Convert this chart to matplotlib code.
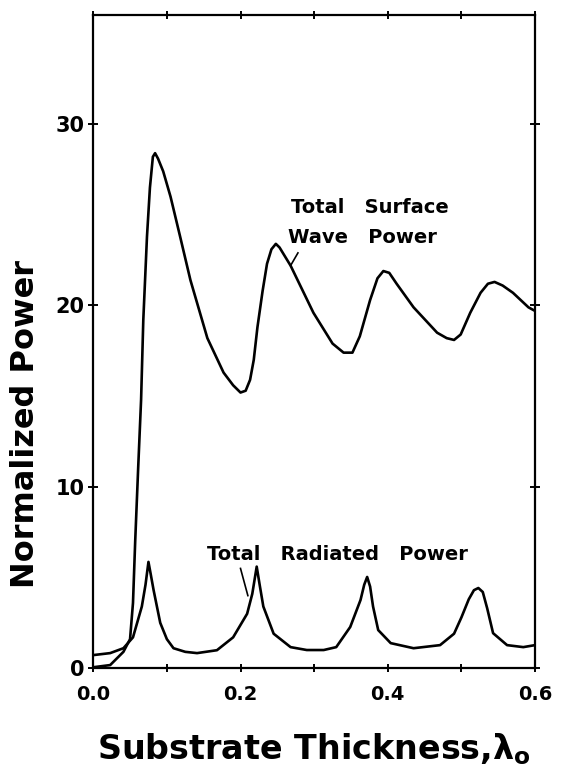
import matplotlib
matplotlib.use("Agg")
import matplotlib.pyplot as plt
from matplotlib.ticker import MultipleLocator

# substrate thickness (in free-space wavelengths)
surf_x = [0.0, 0.023, 0.041, 0.050, 0.054, 0.057, 0.061, 0.065, 0.068, 0.073,
          0.077, 0.081, 0.084, 0.088, 0.095, 0.105, 0.118, 0.132, 0.155, 0.177,
          0.190, 0.200, 0.207, 0.213, 0.218, 0.223, 0.230, 0.236, 0.242, 0.248,
          0.253, 0.268, 0.299, 0.325, 0.340, 0.352, 0.362, 0.376, 0.386, 0.394,
          0.402, 0.412, 0.435, 0.467, 0.480, 0.490, 0.499, 0.512, 0.526, 0.536,
          0.545, 0.556, 0.570, 0.591, 0.600]
surf_y = [0.05, 0.17, 0.9, 1.6, 3.6, 7.0, 11.0, 14.8, 19.2, 23.8,
          26.5, 28.2, 28.4, 28.1, 27.4, 26.0, 23.8, 21.4, 18.2, 16.3,
          15.6, 15.2, 15.3, 15.9, 17.0, 18.8, 20.8, 22.3, 23.1, 23.4,
          23.2, 22.2, 19.6, 17.9, 17.4, 17.4, 18.3, 20.3, 21.5, 21.9,
          21.8, 21.2, 19.9, 18.5, 18.2, 18.1, 18.4, 19.6, 20.7, 21.2,
          21.3, 21.1, 20.7, 19.9, 19.7]

rad_x = [0.0, 0.023, 0.041, 0.054, 0.066, 0.071, 0.075, 0.078, 0.082, 0.091,
         0.100, 0.109, 0.125, 0.141, 0.168, 0.190, 0.209, 0.216, 0.222, 0.226,
         0.231, 0.245, 0.268, 0.290, 0.313, 0.330, 0.349, 0.363, 0.368, 0.372,
         0.376, 0.380, 0.387, 0.404, 0.435, 0.471, 0.490, 0.500, 0.510, 0.517,
         0.523, 0.529, 0.535, 0.543, 0.562, 0.584, 0.600]
rad_y = [0.72, 0.83, 1.1, 1.7, 3.4, 4.6, 5.86, 5.2, 4.3, 2.5,
         1.6, 1.1, 0.9, 0.83, 0.99, 1.7, 3.0, 4.1, 5.6, 4.6,
         3.4, 1.9, 1.16, 1.0, 1.0, 1.16, 2.27, 3.76, 4.6, 5.03,
         4.5, 3.4, 2.1, 1.38, 1.10, 1.27, 1.9, 2.8, 3.8, 4.3,
         4.42, 4.2, 3.3, 1.93, 1.27, 1.16, 1.27]

fig = plt.figure(figsize=(5.65, 7.68), dpi=100)
ax = fig.add_axes([0.165, 0.13, 0.782, 0.85])

ax.plot(surf_x, surf_y, color="black", lw=1.9, solid_joinstyle="round")
ax.plot(rad_x, rad_y, color="black", lw=1.9, solid_joinstyle="round")

ax.set_xlim(0, 0.6)
ax.set_ylim(0, 36)
ax.set_xticks([0.0, 0.2, 0.4, 0.6])
ax.set_xticklabels(["0.0", "0.2", "0.4", "0.6"])
ax.set_yticks([0, 10, 20, 30])
ax.xaxis.set_minor_locator(MultipleLocator(0.1))

for s in ax.spines.values():
    s.set_linewidth(1.6)
ax.tick_params(which="both", direction="inout", length=6, width=1.4,
               top=True, right=True, labeltop=False, labelright=False)
ax.tick_params(axis="y", which="major", length=7)
ax.tick_params(axis="x", labelsize=14, pad=9)
ax.tick_params(axis="y", labelsize=15, pad=3)
for lab in ax.get_xticklabels() + ax.get_yticklabels():
    lab.set_fontweight("bold")

ax.set_ylabel("Normalized Power", fontsize=23, fontweight="bold")
ax.yaxis.set_label_coords(-0.118, 0.374)
ax.set_xlabel(r"Substrate Thickness,$\mathbf{\lambda_{o}}$", fontsize=24,
              fontweight="bold", labelpad=20)

# curve labels with leader lines
ax.text(0.268, 25.1, "Total   Surface", fontsize=14, fontweight="bold",
        va="baseline", ha="left")
ax.text(0.265, 23.45, "Wave   Power", fontsize=14, fontweight="bold",
        va="baseline", ha="left")
ax.plot([0.278, 0.268], [22.9, 22.2], color="black", lw=1.2)

ax.text(0.155, 5.95, "Total   Radiated   Power", fontsize=14,
        fontweight="bold", va="baseline", ha="left")
ax.plot([0.200, 0.210], [5.5, 4.0], color="black", lw=1.2)

fig.savefig("out.png", dpi=100)
